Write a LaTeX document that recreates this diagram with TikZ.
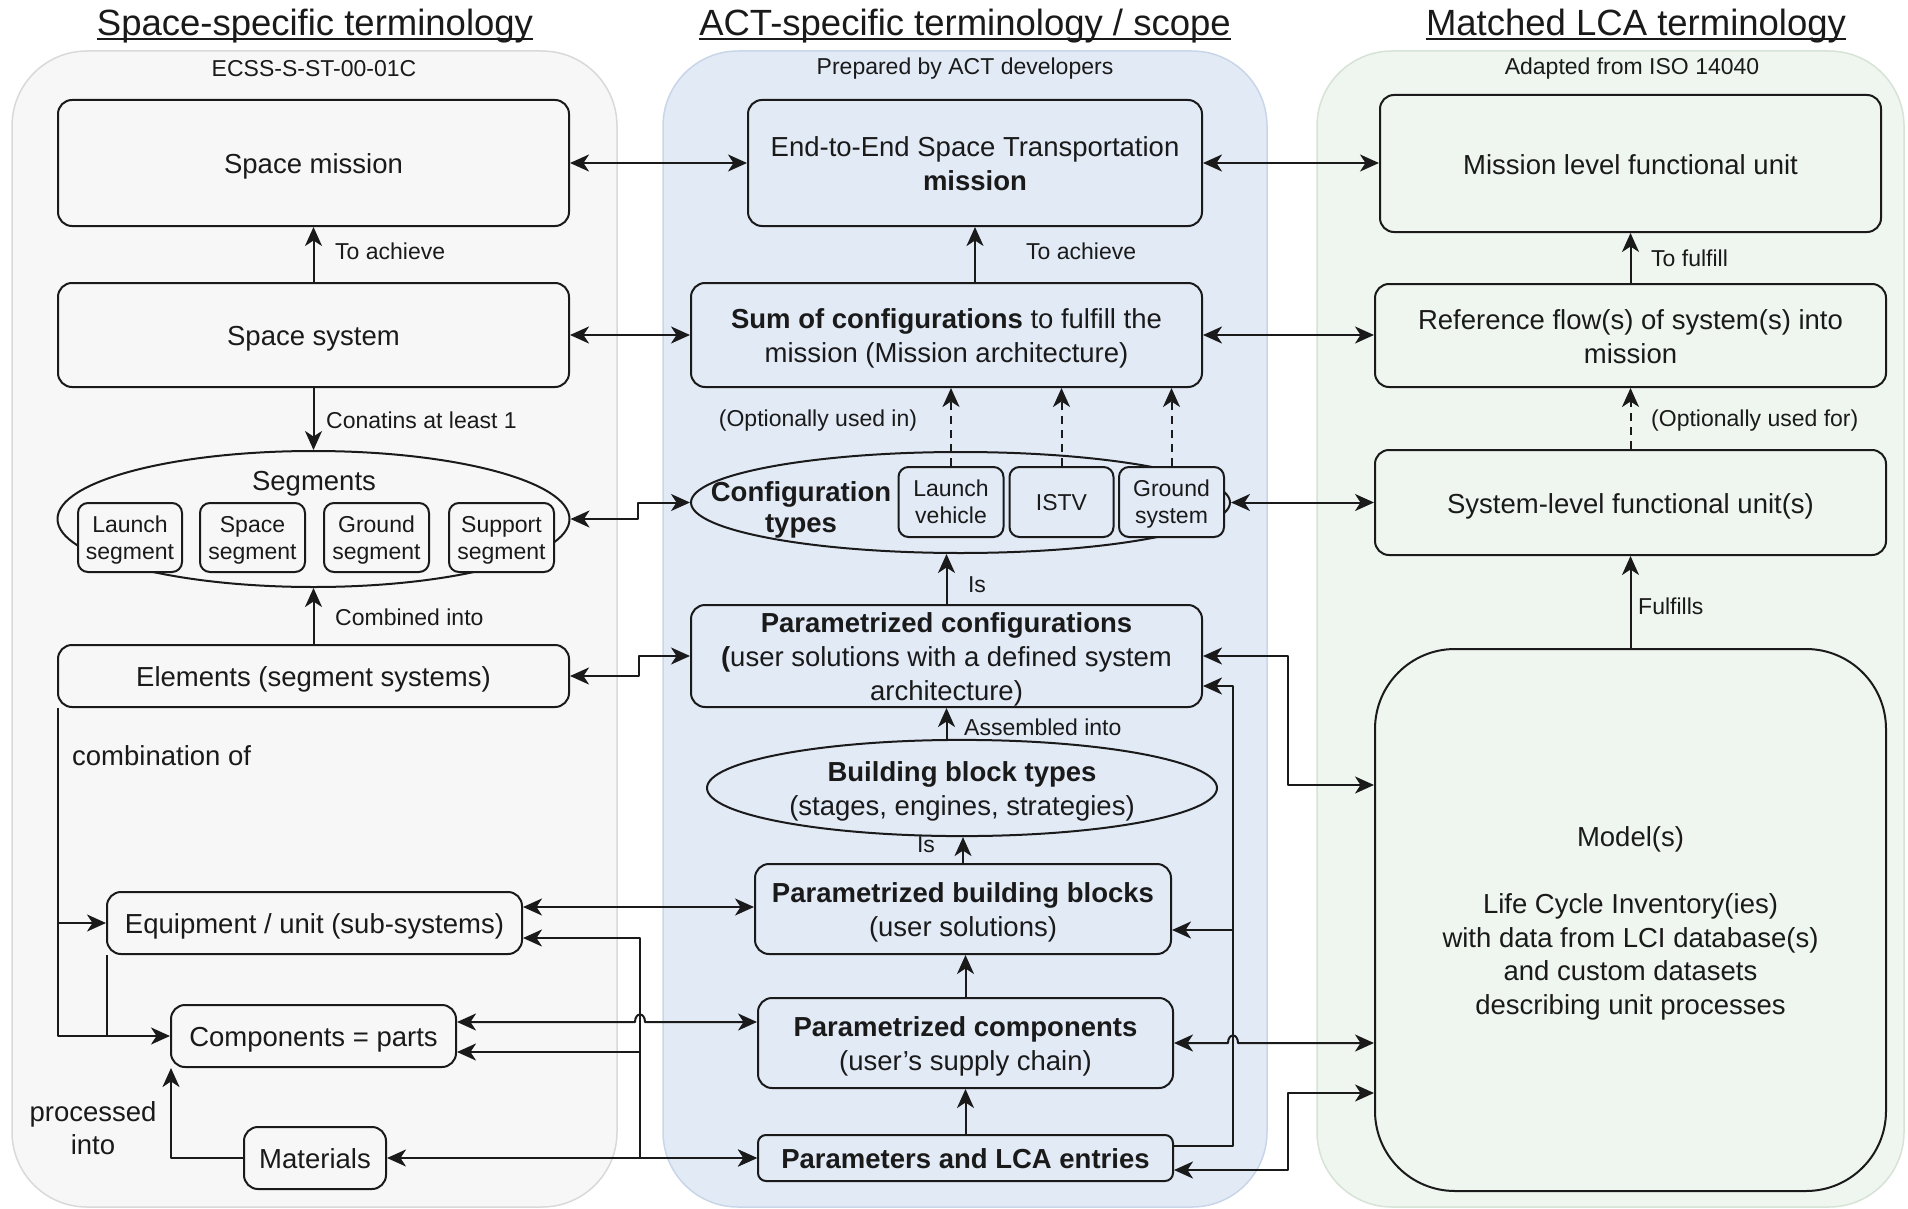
\documentclass[tikz,border=0pt]{standalone}
\usepackage{fontspec}
\setmainfont{Liberation Sans}
\usetikzlibrary{arrows.meta,shapes.geometric}

\definecolor{ink}{HTML}{1A1A1A}
\definecolor{leftbg}{HTML}{F7F7F7}
\definecolor{leftln}{HTML}{D9D9D9}
\definecolor{midbg}{HTML}{E2EAF6}
\definecolor{midln}{HTML}{C9D5E8}
\definecolor{rightbg}{HTML}{EFF5EF}
\definecolor{rightln}{HTML}{D6E3D6}

\newcommand\boxfont{\fontsize{27.5pt}{34pt}\selectfont}
\newcommand\ctfont{\fontsize{27.5pt}{31pt}\selectfont\bfseries}
\newcommand\lblfont{\fontsize{23pt}{27pt}\selectfont}
\newcommand\ttlfont{\fontsize{36.5pt}{44pt}\selectfont}
% centred block of lines, lowered a little inside its box
\newcommand\tx[2][4pt]{\raisebox{-#1}[\height][\depth]{\begin{tabular}{@{}c@{}}#2\end{tabular}}}

\begin{document}
\begin{tikzpicture}[x=1pt,y=-1pt,line join=round,
  panel/.style={line width=1.5pt,rounded corners=75pt,inner sep=0pt},
  box/.style={draw=ink,line width=2pt,rounded corners=14pt,inner sep=0pt,
              align=center,font=\boxfont,text=ink},
  lbox/.style={box,fill=leftbg},
  mbox/.style={box,fill=midbg},
  rbox/.style={box,fill=rightbg},
  subbox/.style={box,rounded corners=10pt,font=\lblfont},
  oval/.style={draw=ink,line width=2pt,ellipse,inner sep=0pt,align=center,
               font=\boxfont,text=ink},
  lbl/.style={inner sep=0pt,font=\lblfont,text=ink},
  ttl/.style={inner sep=0pt,font=\ttlfont,text=ink},
  wire/.style={draw=ink,line width=2pt},
  onearrow/.style={wire,-{Stealth[length=19pt,width=17pt,inset=5.5pt]}},
  twoarrow/.style={wire,{Stealth[length=19pt,width=17pt,inset=5.5pt]}-{Stealth[length=19pt,width=17pt,inset=5.5pt]}},
  optarrow/.style={onearrow,dash pattern=on 8pt off 6pt},
]
\useasboundingbox (0,0) rectangle (1908,1209);

% ---------- column panels ----------
\node[panel,fill=leftbg,draw=leftln,minimum width=605pt,minimum height=1156pt] (pleft) at (314.5,629) {};
\node[panel,fill=midbg,draw=midln,minimum width=604pt,minimum height=1156pt] (pmid) at (965,629) {};
\node[panel,fill=rightbg,draw=rightln,minimum width=587pt,minimum height=1156pt] (pright) at (1610.5,629) {};

% ---------- titles ----------
\node[ttl,anchor=base] (t1) at (315,36) {Space-specific terminology};
\node[ttl,anchor=base] (t2) at (965,36) {ACT-specific terminology / scope};
\node[ttl,anchor=base] (t3) at (1636,36) {Matched LCA terminology};
\foreach \t in {t1,t2,t3}
  \draw[ink,line width=1.5pt] ([yshift=-3pt]\t.base west) -- ([yshift=-3pt]\t.base east);

\node[lbl] (s1) at (314,69) {ECSS-S-ST-00-01C};
\node[lbl] (s2) at (965,69) {Prepared by ACT developers};
\node[lbl] (s3) at (1632,69) {Adapted from ISO 14040};

% ---------- left column ----------
\node[lbox,minimum width=511pt,minimum height=126pt] (sm) at (313.5,163) {\tx{Space mission}};
\node[lbox,minimum width=511pt,minimum height=104pt] (ss) at (313.5,335) {\tx{Space system}};
\node[oval,fill=leftbg,minimum width=512pt,minimum height=136pt] (seg) at (313.5,519) {};
\node[inner sep=0pt,font=\boxfont,text=ink] (segt) at (314,484) {Segments};
\node[subbox,fill=leftbg,minimum width=104pt,minimum height=69pt] (ls) at (130,537.5) {\tx[3.5pt]{Launch\\segment}};
\node[subbox,fill=leftbg,minimum width=105pt,minimum height=69pt] (sps) at (252.5,537.5) {\tx[3.5pt]{Space\\segment}};
\node[subbox,fill=leftbg,minimum width=105pt,minimum height=69pt] (gs) at (376.5,537.5) {\tx[3.5pt]{Ground\\segment}};
\node[subbox,fill=leftbg,minimum width=105pt,minimum height=69pt] (sus) at (501.5,537.5) {\tx[3.5pt]{Support\\segment}};
\node[lbox,minimum width=511pt,minimum height=62pt] (el) at (313.5,676) {\tx{Elements (segment systems)}};
\node[lbox,minimum width=415pt,minimum height=62pt] (eq) at (314.5,923) {\tx{Equipment / unit (sub-systems)}};
\node[lbox,minimum width=285pt,minimum height=62pt] (comp) at (313.5,1036) {\tx{Components = parts}};
\node[lbox,minimum width=142pt,minimum height=62pt] (mat) at (315,1158) {\tx{Materials}};

% ---------- middle column ----------
\node[mbox,minimum width=454pt,minimum height=126pt] (e2e) at (975,163)
  {\tx{End-to-End Space Transportation\\\textbf{mission}}};
\node[mbox,minimum width=511pt,minimum height=104pt] (sum) at (946.5,335)
  {\tx{\textbf{Sum of configurations} to fulfill the\\mission (Mission architecture)}};
\node[oval,fill=midbg,minimum width=539pt,minimum height=101pt] (ct) at (960.5,502.5) {};
\node[inner sep=0pt,font=\ctfont,text=ink,align=center] (ctt) at (801,509.5) {Configuration\\types};
\node[subbox,fill=midbg,minimum width=105pt,minimum height=70pt] (lv) at (951,502) {\tx[3pt]{Launch\\vehicle}};
\node[subbox,fill=midbg,minimum width=104pt,minimum height=70pt] (istv) at (1061.5,502) {\tx[3pt]{ISTV}};
\node[subbox,fill=midbg,minimum width=105pt,minimum height=70pt] (gsys) at (1171.5,502) {\tx[3pt]{Ground\\system}};
\node[mbox,minimum width=511pt,minimum height=102pt] (pc) at (946.5,656)
  {\tx{\textbf{Parametrized configurations}\\\textbf{(}user solutions with a defined system\\architecture)}};
\node[oval,fill=midbg,minimum width=510pt,minimum height=84pt] (bb) at (962,788)
  {\tx{\textbf{Building block types}\\(stages, engines, strategies)}};
\node[mbox,minimum width=416pt,minimum height=90pt] (pbb) at (963,909)
  {\tx{\textbf{Parametrized building blocks}\\(user solutions)}};
\node[mbox,minimum width=415pt,minimum height=90pt] (pcomp) at (965.5,1043)
  {\tx{\textbf{Parametrized components}\\(user's supply chain)}};
\node[mbox,rounded corners=8pt,minimum width=415pt,minimum height=46pt] (par) at (965.5,1158)
  {\tx{\textbf{Parameters and LCA entries}}};

% ---------- right column ----------
\node[rbox,minimum width=501pt,minimum height=137pt] (mfu) at (1630.5,163.5) {\tx{Mission level functional unit}};
\node[rbox,minimum width=511pt,minimum height=103pt] (rf) at (1630.5,335.5)
  {\tx{Reference flow(s) of system(s) into\\mission}};
\node[rbox,minimum width=511pt,minimum height=105pt] (sfu) at (1630.5,502.5) {\tx{System-level functional unit(s)}};
\node[rbox,rounded corners=80pt,minimum width=511pt,minimum height=542pt,font=\fontsize{27.5pt}{33.5pt}\selectfont] (model) at (1630.5,920)
  {\tx{Model(s)\\[33.5pt]Life Cycle Inventory(ies)\\with data from LCI database(s)\\and custom datasets\\describing unit processes}};

% ---------- bus points ----------
\coordinate (lbus) at (59,923);
\coordinate (mbus) at (640,1052);
\coordinate (rbus) at (1233,930);

% ---------- vertical relations ----------
\draw[onearrow] (ss.north) -- (sm.south);
\draw[onearrow] (ss.south) -- (seg.north);
\draw[onearrow] (el.north) -- (seg.south);
\draw[onearrow] (e2e.south |- sum.north) -- (e2e.south);
\draw[optarrow] (lv.north) -- (lv.north |- sum.south);
\draw[optarrow] (istv.north) -- (istv.north |- sum.south);
\draw[optarrow] (gsys.north) -- (gsys.north |- sum.south);
\draw[onearrow] (pc.north) -- (pc.north |- ct.south);
\draw[onearrow] (pc.south |- bb.north) -- (pc.south);
\draw[onearrow] (pbb.north) -- (pbb.north |- bb.south);
\draw[onearrow] (pcomp.north) -- (pcomp.north |- pbb.south);
\draw[onearrow] (par.north) -- (par.north |- pcomp.south);
\draw[onearrow] (rf.north) -- (rf.north |- mfu.south);
\draw[optarrow] (sfu.north) -- (rf.south);
\draw[onearrow] (model.north) -- (sfu.south);

% ---------- left column internal links ----------
\draw[onearrow] ([xshift=1pt]el.south west) -- ([xshift=1pt]el.south west |- comp.west) -- (comp.west);
\draw[onearrow] (lbus) -- (eq.west);
\draw[wire] ([xshift=1pt]eq.south west) -- ([xshift=1pt]eq.south west |- comp.west);
\draw[onearrow] (mat.west) -| ([xshift=1pt]comp.south west);

% ---------- links between columns ----------
\draw[twoarrow] (sm.east) -- (e2e.west);
\draw[twoarrow] (e2e.east) -- (e2e.east -| mfu.west);
\draw[twoarrow] (ss.east) -- (sum.west);
\draw[twoarrow] (sum.east) -- (sum.east -| rf.west);
\draw[twoarrow] (seg.east) -- (638,519) -- (638,502.5) -- (ct.west);
\draw[twoarrow] (ct.east) -- (ct.east -| sfu.west);
\draw[twoarrow] (el.east) -- (639,676) -- (639,656) -- (pc.west);
\draw[twoarrow] (pc.east) -- (1288,656) -- (1288,785) -- (model.west |- 0,785);
\draw[onearrow] (par.east |- 0,1146) -- (1233,1146) -- (1233,686) -- (pc.east |- 0,686);
\draw[onearrow] (rbus) -- (pbb.east |- 0,930);
\draw[twoarrow] (pcomp.east) -- (1228,1043) .. controls (1228,1033) and (1238,1033) .. (1238,1043) -- (pcomp.east -| model.west);
\draw[twoarrow] (model.west |- 0,1093) -- (1288,1093) -- (1288,1170) -- (par.east |- 0,1170);

\draw[twoarrow] (eq.east |- 0,907) -- (pbb.west |- 0,907);
\draw[twoarrow] (eq.east |- 0,938) -- (640,938) -- (640,1158) -- (par.west);
\draw[twoarrow] (comp.east |- 0,1022) -- (635,1022) .. controls (635,1012) and (645,1012) .. (645,1022) -- (pcomp.west |- 0,1022);
\draw[onearrow] (mbus) -- (comp.east |- 0,1052);
\draw[twoarrow] (mat.east) -- (par.west);

% ---------- relation labels ----------
\node[lbl,anchor=west] (la1) at (335,251) {To achieve};
\node[lbl,anchor=west] (la2) at (326,420) {Conatins at least 1};
\node[lbl,anchor=west] (la3) at (335,617) {Combined into};
\node[lbl,anchor=west,font=\boxfont] (la4) at (72,756) {combination of};
\node[lbl,align=center,font=\fontsize{27.5pt}{33pt}\selectfont] (la5) at (93,1128) {processed\\into};
\node[lbl,anchor=west] (lb1) at (1026,251) {To achieve};
\node[lbl] (lb2) at (818,421) {(Optionally used in)};
\node[lbl] (lb3) at (977,585) {Is};
\node[lbl,anchor=west] (lb4) at (964,727) {Assembled into};
\node[lbl] (lb5) at (926,845) {Is};
\node[lbl,anchor=west] (lc1) at (1651,258) {To fulfill};
\node[lbl,anchor=west] (lc2) at (1651,421) {(Optionally used for)};
\node[lbl,anchor=west] (lc3) at (1638,606) {Fulfills};
\end{tikzpicture}
\end{document}
